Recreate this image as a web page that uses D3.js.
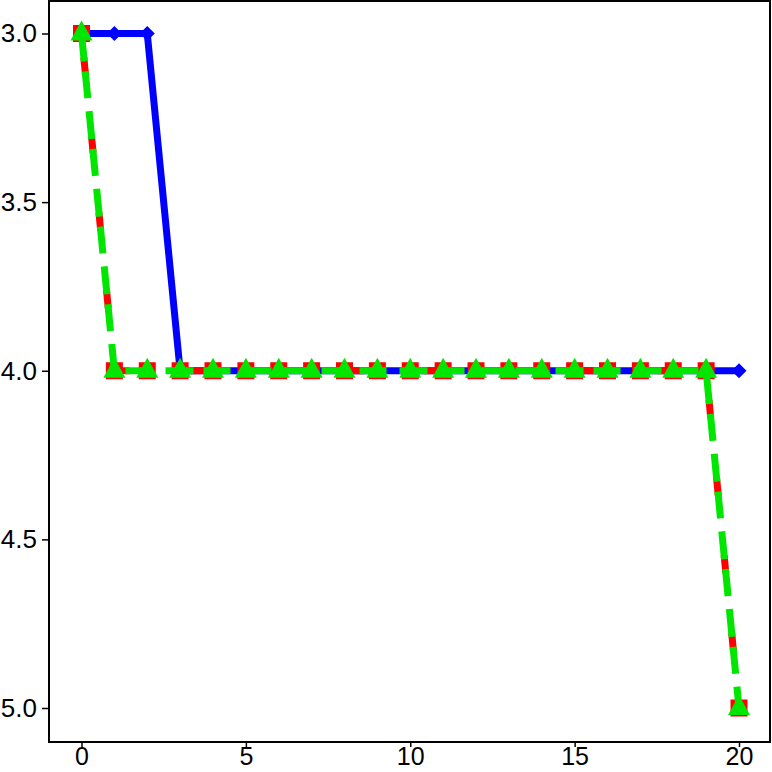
<!DOCTYPE html>
<html><head><meta charset="utf-8">
<script src="https://cdn.jsdelivr.net/npm/d3@7"></script>
<style>body{margin:0;background:#fff}svg{display:block}</style>
</head><body>
<script>
const xValues = d3.range(0, 21);
const blueValues = [3,3,3,4,4,4,4,4,4,4,4,4,4,4,4,4,4,4,4,4,4];
const redValues  = [3,4,4,4,4,4,4,4,4,4,4,4,4,4,4,4,4,4,4,4,5];
const greenValues= [3,4,4,4,4,4,4,4,4,4,4,4,4,4,4,4,4,4,4,4,5];
const xTicks = [0,5,10,15,20];
const yTicks = [3.0,3.5,4.0,4.5,5.0];

(function(){
const W=772,H=772;
const svg=d3.select("body").append("svg").attr("width",W).attr("height",H);
const mL=49,mR=770,mT=1,mB=742;
const x=d3.scaleLinear().domain([0,20]).range([81.5,739]);
const y=d3.scaleLinear().domain([3,5]).range([33.5,708]);

svg.append("rect").attr("x",mL).attr("y",mT).attr("width",mR-mL).attr("height",mB-mT)
  .attr("fill","none").attr("stroke","#000").attr("stroke-width",2);

const xa=svg.append("g").attr("transform",`translate(0,${mB})`)
  .call(d3.axisBottom(x).tickValues(xTicks).tickFormat(d3.format("d")).tickSize(5).tickPadding(0));
const ya=svg.append("g").attr("transform",`translate(${mL},0)`)
  .call(d3.axisLeft(y).tickValues(yTicks).tickFormat(d3.format(".1f")).tickSize(7).tickPadding(5));
[xa,ya].forEach(a=>{a.select(".domain").remove();
  a.selectAll("line").attr("stroke","#000").attr("stroke-width",1.5);
  a.selectAll("text").attr("font-family","Liberation Sans, Arial, sans-serif").attr("font-size",26).attr("fill","#000");});
xa.selectAll("text").attr("font-size",25);

const line=d3.line().x((d,i)=>x(xValues[i])).y(d=>y(d));
const g=svg.append("g");

g.append("path").attr("d",line(blueValues)).attr("fill","none").attr("stroke","#0000ff").attr("stroke-width",7).attr("stroke-linejoin","round");
g.selectAll(".bd").data(blueValues).enter().append("path")
  .attr("transform",(d,i)=>`translate(${x(xValues[i])},${y(d)})`)
  .attr("d","M0,-7.5L7.5,0L0,7.5L-7.5,0Z").attr("fill","#0000ff");

g.append("path").attr("d",line(redValues)).attr("fill","none").attr("stroke","#ff0000").attr("stroke-width",7)
  .attr("stroke-dasharray","18,60").attr("stroke-dashoffset",54);
g.selectAll(".rs").data(redValues).enter().append("rect")
  .attr("x",(d,i)=>x(xValues[i])-8.5).attr("y",d=>y(d)-8.5).attr("width",17).attr("height",17).attr("fill","#ff0000");

g.append("path").attr("d",line(greenValues)).attr("fill","none").attr("stroke","#00e600").attr("stroke-width",7)
  .attr("stroke-dasharray","28,10,27,13");
g.selectAll(".gt").data(greenValues).enter().append("path")
  .attr("transform",(d,i)=>`translate(${x(xValues[i])},${y(d)})`)
  .attr("d","M0,-13L11,7L-11,7Z").attr("fill","#00e600");
})();
</script>
</body></html>
